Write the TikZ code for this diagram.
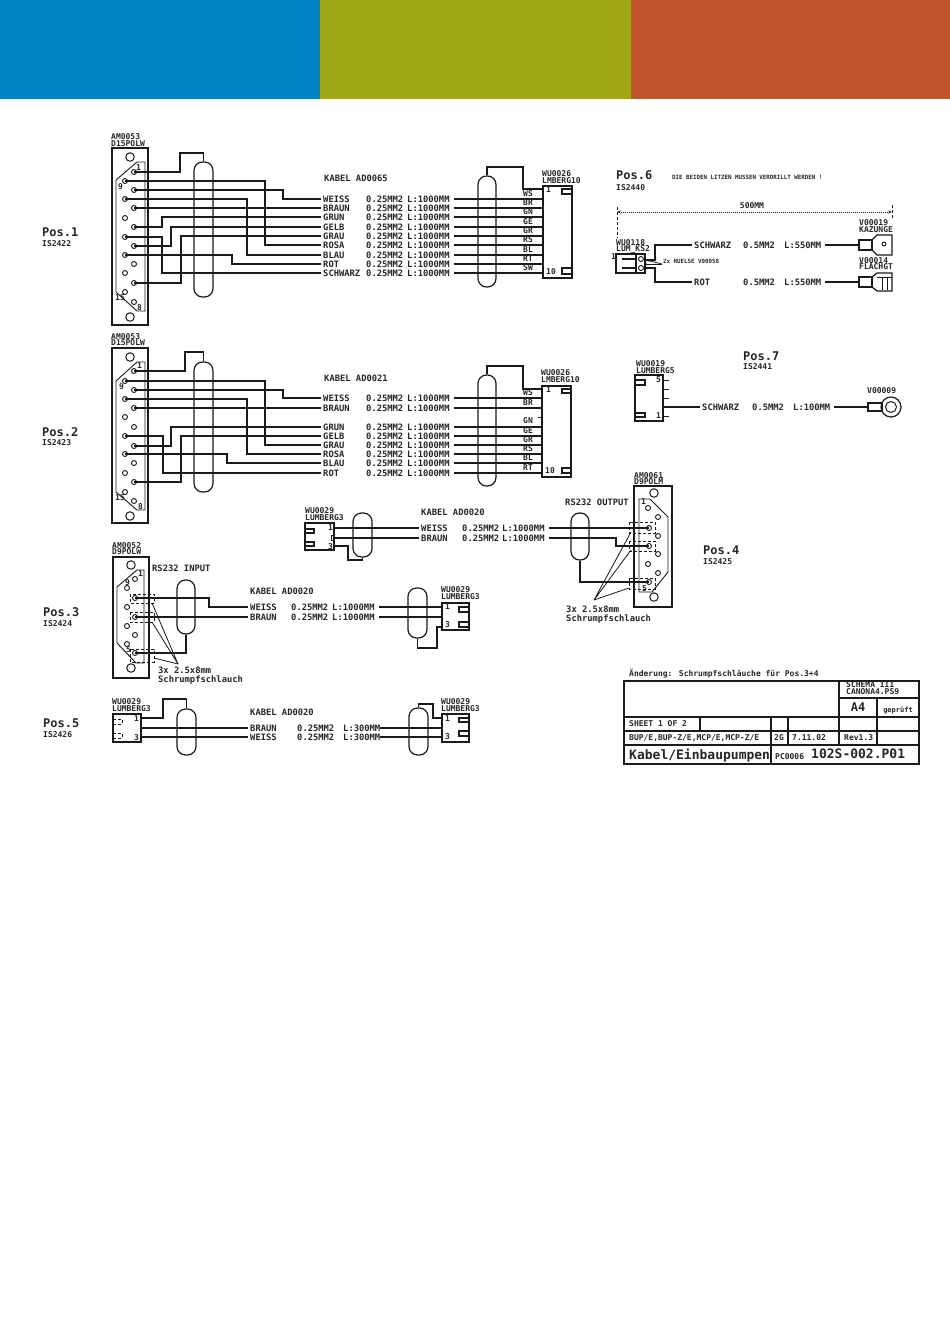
\documentclass[tikz,border=0pt]{standalone}
\usepackage{fontspec}
\setmainfont{DejaVu Sans Mono}
\usetikzlibrary{arrows.meta}
\definecolor{bandblue}{HTML}{0082C3}
\definecolor{bandgreen}{HTML}{A0A81A}
\definecolor{bandrust}{HTML}{C0562C}
\definecolor{ink}{HTML}{1A1A1A}
\definecolor{tink}{HTML}{262626}
\newcounter{tn}
\tikzset{
  tbase/.style={inner sep=0pt,anchor=west,text=tink},
  tS/.style={tbase,font=\fontsize{8.8}{9}\selectfont\bfseries,text height=6.2pt,text depth=0pt},
  tM/.style={tbase,font=\fontsize{8}{9}\selectfont\bfseries,text height=5.6pt,text depth=0pt},
  tB/.style={tbase,font=\fontsize{12}{13}\selectfont\bfseries,text height=8.6pt,text depth=0pt},
  tT/.style={tbase,font=\fontsize{5.8}{6}\selectfont\bfseries,text height=4.2pt,text depth=0pt},
  tL/.style={tbase,font=\fontsize{13}{14}\selectfont\bfseries,text height=9.4pt,text depth=0pt},
  wire/.style={line width=1.5pt,draw=ink,line join=miter},
  thinl/.style={line width=.8pt,draw=ink},
  body/.style={line width=1.2pt,draw=ink},
  pinc/.style={circle,draw=ink,line width=.9pt,minimum size=5pt,inner sep=0pt},
  hole/.style={circle,draw=ink,line width=1pt,minimum size=8.5pt,inner sep=0pt},
  boxn/.style={rectangle,draw=ink,line width=1.2pt,inner sep=0pt},
  dashbox/.style={draw=ink,line width=.7pt,densely dashed},
  dimline/.style={line width=.9pt,draw=ink,densely dotted},
}
% free text
\newcommand\txt[4]{\stepcounter{tn}\node[#1] (t\arabic{tn}) at (#2,#3) {#4};}
% rectangle node given by corners
\newcommand\rbox[6][]{\pgfmathsetmacro\bw{#5-#3}\pgfmathsetmacro\bh{#6-#4}%
  \node[boxn,minimum width=\bw pt,minimum height=\bh pt,#1] (#2) at ({(#3+#5)/2},{(#4+#6)/2}) {};}
% ferrule
\newcommand\ferr[5]{\pgfmathsetmacro\bw{#4-#2}\pgfmathsetmacro\bh{#5-#3}%
  \node[boxn,rounded corners=8.5pt,minimum width=\bw pt,minimum height=\bh pt] (#1) at ({(#2+#4)/2},{(#3+#5)/2}) {};}
% cable row: id, y, colour, x colour, gauge, x gauge, length, x length
\newcommand\row[8]{%
  \node[tS] (#1-c) at (#4,#2) {#3};
  \node[tS] (#1-g) at (#6,#2) {#5};
  \node[tS] (#1-l) at (#8,#2) {#7};}
% pin to label through a vertical jog
\newcommand\route[3]{\draw[wire] (#1.center) -- (#1.center -| #2,0) |- ([xshift=-2pt]#3-c.west);}
% label to connector
\newcommand\rwire[3]{\draw[wire] ([xshift=#2]#1-l.east) -- (#1-l.east -| #3.west);}
\begin{document}
\begin{tikzpicture}[x=1pt,y=-1pt]
\useasboundingbox (0,0) rectangle (950,1344);
\fill[white] (0,0) rectangle (950,1344);
\fill[bandblue] (0,0) rectangle (319.5,99);
\fill[bandgreen] (319.5,0) rectangle (631,99);
\fill[bandrust] (631,0) rectangle (950,99);

% ======== POS 1 ========
\txt{tB}{42}{232}{Pos.1}
\txt{tM}{42}{244}{IS2422}
\txt{tM}{111}{137}{AM0053}
\txt{tM}{111}{144}{D15POLW}
\rbox{c1}{112}{148}{148}{325}
\node[hole] (h1a) at (130,157) {};
\node[hole] (h1b) at (130,317) {};
\draw[body,line width=.9pt] (137,162) -- (145,162) -- (145,311) -- (137,311) -- (116,292) -- (116,180) -- cycle;
\txt{tM}{136}{168}{1}
\txt{tM}{118}{187}{9}
\txt{tM}{115}{298}{15}
\txt{tM}{137}{308}{8}
\foreach \n/\px/\py in {a/134/172,b/125/181,c/134/190,d/125/199,e/134/208,f/125/218,g/134/227,h/125/237,i/134/246,j/125/255,k/134/264,l/125/273,m/134/283,n/125/292,o/134/302}
  {\node[pinc] (p1\n) at (\px,\py) {};}
\txt{tS}{324}{178}{KABEL AD0065}
\row{a1}{199}{WEISS}{323}{0.25MM2}{366}{L:1000MM}{407}
\row{a2}{208}{BRAUN}{323}{0.25MM2}{366}{L:1000MM}{407}
\row{a3}{217}{GRUN}{323}{0.25MM2}{366}{L:1000MM}{407}
\row{a4}{227}{GELB}{323}{0.25MM2}{366}{L:1000MM}{407}
\row{a5}{236}{GRAU}{323}{0.25MM2}{366}{L:1000MM}{407}
\row{a6}{245}{ROSA}{323}{0.25MM2}{366}{L:1000MM}{407}
\row{a7}{255}{BLAU}{323}{0.25MM2}{366}{L:1000MM}{407}
\row{a8}{264}{ROT}{323}{0.25MM2}{366}{L:1000MM}{407}
\row{a9}{273}{SCHWARZ}{323}{0.25MM2}{366}{L:1000MM}{407}
\ferr{f1}{194}{162}{213}{297}
\draw[wire] (p1a.center) -| (180,153) -| (f1.north);
\route{p1b}{265}{a6}
\route{p1c}{283}{a1}
\route{p1d}{247}{a7}
\route{p1e}{200}{a2}
\route{p1g}{162}{a3}
\route{p1i}{171}{a4}
\route{p1h}{162}{a9}
\route{p1j}{232}{a8}
\route{p1m}{181}{a5}
\rbox{c1r}{543}{186}{572}{278}
\ferr{f1r}{478}{176}{496}{287}
\coordinate (c1r1) at (543,189);
\draw[wire] (f1r.north) |- (523,167) |- (c1r1);
\foreach \r in {a1,a2,a3,a4,a5,a6,a7,a8,a9} {\rwire{\r}{4pt}{c1r}}
\foreach \s/\yy in {WS/194,BR/203,GN/212,GE/222,GR/231,RS/240,BL/250,RT/259,SW/268}
  {\node[tM,anchor=center] (l1\s) at (528,\yy) {\s};}
\txt{tM}{546}{190}{1}
\txt{tM}{546}{272}{10}
\draw[body] (572,189) -| (562,194) -- (572,194);
\draw[body] (572,268) -| (562,274) -- (572,274);
\txt{tM}{542}{174}{WU0026}
\txt{tM}{542}{181}{LMBERG10}

% ======== POS 2 ========
\txt{tB}{42}{432}{Pos.2}
\txt{tM}{42}{443}{IS2423}
\txt{tM}{111}{337}{AM0053}
\txt{tM}{111}{343}{D15POLW}
\rbox{c2}{112}{348}{148}{523}
\node[hole] (h2a) at (130,357) {};
\node[hole] (h2b) at (130,516) {};
\draw[body,line width=.9pt] (137,362) -- (145,362) -- (145,510) -- (137,510) -- (116,492) -- (116,381) -- cycle;
\txt{tM}{137}{366}{1}
\txt{tM}{119}{387}{9}
\txt{tM}{115}{498}{15}
\txt{tM}{138}{507}{8}
\foreach \n/\px/\py in {a/134/371,b/125/381,c/134/390,d/125/399,e/134/408,f/125/417,g/134/427,h/125/436,i/134/446,j/125/454,k/134/463,l/125/473,m/134/482,n/125/492,o/134/501}
  {\node[pinc] (p2\n) at (\px,\py) {};}
\txt{tS}{324}{378}{KABEL AD0021}
\row{b1}{398}{WEISS}{323}{0.25MM2}{366}{L:1000MM}{407}
\row{b2}{408}{BRAUN}{323}{0.25MM2}{366}{L:1000MM}{407}
\row{b3}{427}{GRUN}{323}{0.25MM2}{366}{L:1000MM}{407}
\row{b4}{436}{GELB}{323}{0.25MM2}{366}{L:1000MM}{407}
\row{b5}{445}{GRAU}{323}{0.25MM2}{366}{L:1000MM}{407}
\row{b6}{454}{ROSA}{323}{0.25MM2}{366}{L:1000MM}{407}
\row{b7}{463}{BLAU}{323}{0.25MM2}{366}{L:1000MM}{407}
\row{b8}{473}{ROT}{323}{0.25MM2}{366}{L:1000MM}{407}
\ferr{f2}{194}{362}{213}{492}
\draw[wire] (p2a.center) -| (185,352) -| (f2.north);
\route{p2b}{265}{b5}
\route{p2c}{283}{b1}
\route{p2d}{247}{b6}
\route{p2e}{200}{b2}
\route{p2i}{171}{b3}
\route{p2h}{163}{b8}
\route{p2m}{181}{b4}
\route{p2j}{227}{b7}
\rbox{c2r}{542}{386}{571}{477}
\ferr{f2r}{478}{375}{496}{486}
\coordinate (c2r1) at (542,389);
\draw[wire] (f2r.north) |- (523,366) |- (c2r1);
\foreach \r in {b1,b2,b3,b4,b5,b6,b7,b8} {\rwire{\r}{4pt}{c2r}}
\coordinate (c2t) at (542,417);
\draw[thinl] (c2t) -- ++(-4,0);
\foreach \s/\yy in {WS/393,BR/403,GN/421,GE/431,GR/440,RS/449,BL/458,RT/468}
  {\node[tM,anchor=center] (l2\s) at (528,\yy) {\s};}
\txt{tM}{546}{390}{1}
\txt{tM}{545}{471}{10}
\draw[body] (571,389) -| (562,393) -- (571,393);
\draw[body] (571,468) -| (562,473) -- (571,473);
\txt{tM}{541}{373}{WU0026}
\txt{tM}{541}{380}{LMBERG10}

% ======== MIDDLE / POS 4 ========
\txt{tM}{305}{511}{WU0029}
\txt{tM}{305}{518}{LUMBERG3}
\rbox{c4l}{305}{523}{334}{550}
\draw[body] (305,529) -- (314,529) |- (305,533);
\draw[body] (305,542) -- (314,542) |- (305,546);
\txt{tM}{328}{528}{1}
\txt{tM}{328}{547}{3}
\draw[thinl] (331,535) rectangle (334,540);
\ferr{f4l}{353}{513}{372}{557}
\txt{tS}{421}{512}{KABEL AD0020}
\row{d1}{528}{WEISS}{421}{0.25MM2}{462}{L:1000MM}{502}
\row{d2}{538}{BRAUN}{421}{0.25MM2}{462}{L:1000MM}{502}
\draw[wire] (d1-c.west -| c4l.east) -- ([xshift=-2pt]d1-c.west);
\draw[wire] (d2-c.west -| c4l.east) -- ([xshift=-2pt]d2-c.west);
\coordinate (c4l3) at (334,546);
\draw[wire] (c4l3) -| (348,560) -| (f4l.south);
\txt{tS}{565}{502}{RS232 OUTPUT}
\rbox{c4}{634}{486}{672}{607}
\txt{tM}{634}{476}{AM0061}
\txt{tM}{634}{482}{D9POLM}
\node[hole] (h4a) at (654,493) {};
\node[hole] (h4b) at (654,597) {};
\draw[body,line width=.9pt] (639,499) -- (650,499) -- (668,517) -- (668,572) -- (652,592) -- (639,592) -- cycle;
\txt{tM}{641}{502}{1}
\txt{tM}{642}{589}{5}
\foreach \n/\px/\py in {a/649/528,b/649/546,c/649/582,d/648/508,e/658/517,f/658/536,g/658/554,h/648/564,i/658/573}
  {\node[pinc] (p4\n) at (\px,\py) {};}
\ferr{f4}{571}{513}{589}{560}
\draw[wire] ([xshift=4pt]d1-l.east) -- (p4a.center);
\draw[wire] ([xshift=4pt]d2-l.east) -| (616,546) -- (p4b.center);
\draw[wire] (f4.south) |- (p4c.center);
\draw[dashbox] (629,522) rectangle (655,533);
\draw[dashbox] (629,541) rectangle (655,551);
\draw[dashbox] (629,578) rectangle (655,589);
\coordinate (ld4) at (594,600);
\draw[thinl] (631,532) -- (ld4) -- (631,550);
\draw[thinl] (ld4) -- (629,588);
\txt{tS}{566}{609}{3x 2.5x8mm}
\txt{tS}{566}{618}{Schrumpfschlauch}
\txt{tB}{703}{550}{Pos.4}
\txt{tM}{703}{562}{IS2425}

% ======== POS 3 ========
\txt{tB}{43}{612}{Pos.3}
\txt{tM}{43}{624}{IS2424}
\txt{tM}{112}{546}{AM0052}
\txt{tM}{112}{552}{D9POLW}
\rbox{c3}{113}{557}{149}{678}
\node[hole] (h3a) at (131,565) {};
\node[hole] (h3b) at (131,668) {};
\draw[body,line width=.9pt] (137,570) -- (144,570) -- (144,663) -- (136,663) -- (117,643) -- (117,587) -- cycle;
\txt{tM}{138}{574}{1}
\txt{tM}{125}{583}{9}
\txt{tM}{126}{650}{5}
\foreach \n/\px/\py in {a/135/598,b/135/617,c/135/653,d/135/579,e/127/588,f/127/607,g/127/626,h/135/635,i/127/644}
  {\node[pinc] (p3\n) at (\px,\py) {};}
\txt{tS}{152}{568}{RS232 INPUT}
\ferr{f3}{177}{580}{195}{634}
\txt{tS}{250}{591}{KABEL AD0020}
\row{e1}{607}{WEISS}{250}{0.25MM2}{291}{L:1000MM}{332}
\row{e2}{617}{BRAUN}{250}{0.25MM2}{291}{L:1000MM}{332}
\route{p3a}{209}{e1}
\route{p3b}{170}{e2}
\draw[wire] (p3c.center) -| (f3.south);
\draw[dashbox] (130,594) rectangle (154,603);
\draw[dashbox] (130,612) rectangle (154,622);
\draw[dashbox] (130,649) rectangle (154,662);
\coordinate (ld3) at (178,664);
\draw[thinl] (152,603) -- (ld3) -- (152,622);
\draw[thinl] (ld3) -- (154,658);
\txt{tS}{158}{670}{3x 2.5x8mm}
\txt{tS}{158}{679}{Schrumpfschlauch}
\rbox{c3r}{442}{603}{469}{630}
\txt{tM}{441}{590}{WU0029}
\txt{tM}{441}{597}{LUMBERG3}
\ferr{f3r}{408}{588}{427}{638}
\rwire{e1}{4pt}{c3r}
\rwire{e2}{4pt}{c3r}
\coordinate (c3r3) at (442,627);
\draw[wire] (f3r.south) |- (437,648) |- (c3r3);
\txt{tM}{445}{607}{1}
\txt{tM}{445}{625}{3}
\draw[body] (469,607) -| (459,612) -- (469,612);
\draw[body] (469,622) -| (459,627) -- (469,627);

% ======== POS 5 ========
\txt{tB}{43}{723}{Pos.5}
\txt{tM}{43}{735}{IS2426}
\txt{tM}{112}{702}{WU0029}
\txt{tM}{112}{709}{LUMBERG3}
\rbox{c5}{113}{714}{141}{742}
\draw[dashbox] (113,719) -- (122,719) |- (113,724);
\draw[dashbox] (113,733) -- (122,733) |- (113,738);
\txt{tM}{134}{719}{1}
\txt{tM}{134}{738}{3}
\ferr{f5}{177}{709}{196}{755}
\coordinate (c51) at (141,718);
\draw[wire] (c51) -| (163,699) -| (f5.north);
\txt{tS}{250}{712}{KABEL AD0020}
\row{g1}{728}{BRAUN}{250}{0.25MM2}{297}{L:300MM}{343}
\row{g2}{737}{WEISS}{250}{0.25MM2}{297}{L:300MM}{343}
\draw[wire] (g1-c.west -| c5.east) -- ([xshift=-2pt]g1-c.west);
\draw[wire] (g2-c.west -| c5.east) -- ([xshift=-2pt]g2-c.west);
\rbox{c5r}{442}{714}{469}{742}
\txt{tM}{441}{702}{WU0029}
\txt{tM}{441}{709}{LUMBERG3}
\ferr{f5r}{409}{708}{428}{755}
\rwire{g1}{0pt}{c5r}
\rwire{g2}{0pt}{c5r}
\coordinate (c5r1) at (442,718);
\draw[wire,line width=1.2pt] (f5r.north) |- (433,704) |- (c5r1);
\txt{tM}{445}{719}{1}
\txt{tM}{445}{737}{3}
\draw[body] (469,718) -| (459,722) -- (469,722);
\draw[body] (469,731) -| (459,736) -- (469,736);

% ======== POS 6 ========
\txt{tB}{616}{175}{Pos.6}
\txt{tM}{616}{188}{IS2440}
\txt{tT}{672}{177}{DIE BEIDEN LITZEN MUSSEN VERDRILLT WERDEN !}
\coordinate (dimL) at (617,212);
\coordinate (dimR) at (892,212);
\draw[dimline,{Stealth[length=4pt,width=3pt]}-{Stealth[length=4pt,width=3pt]},solid,dash pattern=on 1pt off 1pt] (dimL) -- (dimR);
\draw[thinl,densely dashed] (617,207) -- (617,238);
\draw[thinl,densely dashed] (892,205) -- (892,220);
\node[tM,anchor=center] (dimT) at (752,206) {500MM};
\txt{tM}{616}{243}{WU0118}
\txt{tM}{616}{249}{LUM\_KS2}
\txt{tM}{611}{257}{1}
\rbox{c6}{616}{254}{645}{273}
\draw[body] (636,254) -- (636,273);
\node[pinc] (p6a) at (641,259) {};
\node[pinc] (p6b) at (641,268) {};
\draw[wire] (622,259) -- (636,259);
\draw[wire] (622,268) -- (636,268);
\row{k1}{245}{SCHWARZ}{694}{0.5MM2}{743}{L:550MM}{784}
\row{k2}{282}{ROT}{694}{0.5MM2}{743}{L:550MM}{784}
\coordinate (c6a) at (645,260);
\coordinate (c6b) at (645,268);
\draw[wire] (c6a) -| (655,245) -- ([xshift=-2pt]k1-c.west);
\draw[wire] (c6b) -| (655,282) -- ([xshift=-2pt]k2-c.west);
\txt{tT}{663}{261}{2x HUELSE V00058}
\draw[thinl,-{Stealth[length=3pt,width=2.5pt]}] (662,264) -- (644,264);
\draw[thinl,-{Stealth[length=3pt,width=2.5pt]}] (662,264) -- (646,260);
\txt{tM}{859}{223}{V00019}
\txt{tM}{859}{230}{KAZUNGE}
\rbox{f6a}{859}{240}{872}{250}
\draw[wire] ([xshift=4pt]k1-l.east) -- (f6a.west);
\draw[body] (872,240) -- (877,235) -- (892,235) -- (892,255) -- (877,255) -- (872,250);
\node[pinc,minimum size=4pt] (r6a) at (884,244) {};
\txt{tM}{859}{261}{V00014}
\txt{tM}{859}{267}{FLACHGT}
\rbox{f6b}{859}{277}{872}{287}
\draw[wire] ([xshift=4pt]k2-l.east) -- (f6b.west);
\draw[body] (872,277) -- (877,273) -- (892,273) -- (892,291) -- (877,291) -- (872,287);
\draw[thinl] (877,277) -- (892,277) (882,277) -- (882,290) (887,277) -- (887,290);

% ======== POS 7 ========
\txt{tB}{743}{356}{Pos.7}
\txt{tM}{743}{367}{IS2441}
\txt{tM}{636}{364}{WU0019}
\txt{tM}{636}{371}{LUMBERG5}
\rbox{c7}{635}{375}{663}{421}
\draw[body] (635,380) -| (645,385) -- (635,385);
\draw[body] (635,413) -| (645,417) -- (635,417);
\txt{tM}{656}{380}{5}
\txt{tM}{656}{416}{1}
\foreach \yy in {380,389,398,416} {\draw[thinl] (c7.east |- 0,\yy) -- ++(5,0);}
\row{m1}{407}{SCHWARZ}{702}{0.5MM2}{752}{L:100MM}{793}
\draw[wire] (m1-c.west -| c7.east) -- ([xshift=-2pt]m1-c.west);
\rbox{f7}{868}{403}{882}{411}
\draw[wire] ([xshift=4pt]m1-l.east) -- (f7.west);
\node[circle,draw=ink,line width=1.2pt,minimum size=20pt,inner sep=0pt] (r7o) at (891,407) {};
\node[circle,draw=ink,line width=1pt,minimum size=11pt,inner sep=0pt] (r7i) at (891,407) {};
\txt{tM}{867}{391}{V00009}

% ======== TITLE BLOCK ========
\txt{tM}{629}{674}{Änderung: Schrumpfschläuche für Pos.3+4}
\draw[line width=1.6pt,draw=ink] (624,681) rectangle (919,764);
\draw[body] (624,717) -- (919,717);
\draw[body] (624,731) -- (919,731);
\draw[line width=1.6pt,draw=ink] (624,745) -- (919,745);
\draw[body] (839,681) -- (839,745);
\draw[body] (877,698) -- (877,745);
\draw[body] (839,698) -- (919,698);
\draw[body] (771,717) -- (771,764);
\draw[body] (788,717) -- (788,745);
\draw[body] (700,717) -- (700,731);
\txt{tM}{846}{685}{SCHEMA III}
\txt{tM}{846}{692}{CANONA4.PS9}
\node[tB,anchor=center] (tA4) at (858,707) {A4};
\node[tT,anchor=center,font=\fontsize{7}{8}\selectfont\bfseries] (tgp) at (898,710) {geprüft};
\txt{tM}{629}{724}{SHEET 1 OF 2}
\txt{tM}{629}{738}{BUP/E,BUP-Z/E,MCP/E,MCP-Z/E}
\txt{tM}{774}{738}{2G}
\txt{tM}{792}{738}{7.11.02}
\txt{tM}{844}{738}{Rev1.3}
\txt{tL}{629}{755}{Kabel/Einbaupumpen}
\txt{tM}{775}{757}{PC0006}
\txt{tL}{811}{754}{102S-002.P01}
\end{tikzpicture}
\end{document}
